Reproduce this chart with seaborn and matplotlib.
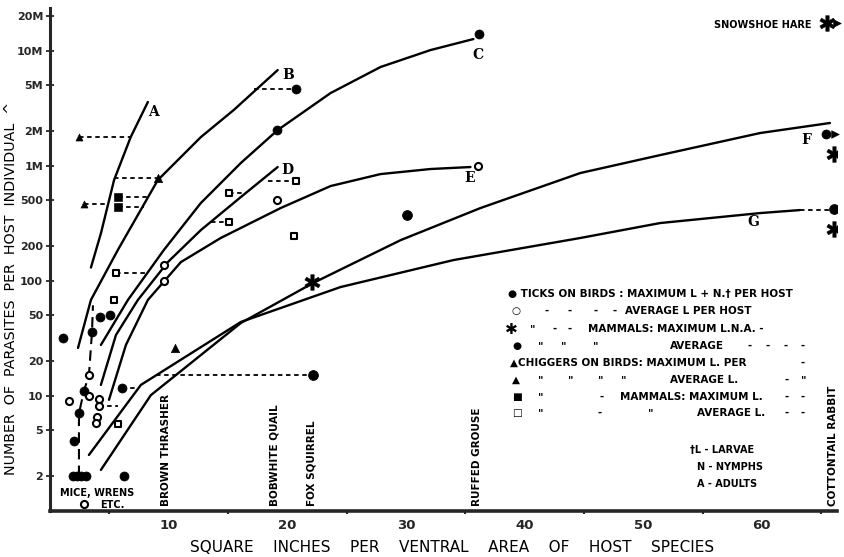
import numpy as np
import pandas as pd
import matplotlib
matplotlib.use("Agg")
import matplotlib.pyplot as plt
import seaborn as sns

# ---------------- data ----------------
curve_names = ["A", "B", "C", "D", "E", "F", "G"]
curve_A_x = [3.45, 4.3, 5.4, 6.8, 8.25]
curve_A_y = [130, 260, 750, 1770, 3580]
curve_B_x = [2.36, 3.45, 5.72, 9.09, 12.71, 15.49, 19.19]
curve_B_y = [26, 68, 185, 750, 1770, 3050, 6780]
curve_C_x = [4.29, 6.57, 9.6, 12.71, 16.08, 19.19, 23.65, 27.86, 32.07, 35.69]
curve_C_y = [27.6, 68, 185, 473, 1054, 2040, 4280, 7210, 10120, 12620]
curve_D_x = [4.29, 5.56, 7.41, 9.93, 12.71, 16.08, 19.19]
curve_D_y = [12.4, 33.7, 68, 145, 275, 533, 973]
curve_E_x = [4.97, 6.4, 8.25, 11.03, 14.39, 19.44, 23.65, 27.86, 32.07, 35.44]
curve_E_y = [9.2, 27.6, 68, 145, 235, 428, 665, 845, 935, 973]
curve_F_x = [4.29, 8.5, 16.08, 22.14, 29.55, 36.28, 44.7, 51.43, 59.85, 65.74]
curve_F_y = [2.26, 10.1, 42.8, 95, 225, 428, 863, 1236, 1922, 2350]
curve_G_x = [3.28, 7.66, 16.08, 24.49, 34.0, 44.7, 51.43, 59.85, 63.2]
curve_G_y = [3.05, 12.4, 43.7, 88, 151, 235, 317, 387, 411]

mice_dash_x = [2.44, 2.44, 2.86, 3.28, 3.54, 3.62]
mice_dash_y = [2, 7, 11, 15, 36, 61]

tick_bird_max_x = [1.1, 2.0, 2.45, 2.85, 3.5, 4.2, 5.05, 6.1, 6.2, 1.95, 2.3, 2.65, 3.0, 19.1, 20.7, 36.2, 65.4]
tick_bird_max_y = [32, 4, 7, 11, 36, 48, 50, 11.7, 2, 2, 2, 2, 2, 2040, 4680, 13900, 1900]
tick_bird_avg_x = [1.6, 3.3, 3.3, 4.1, 4.1, 4.0, 3.9, 9.6, 9.6, 19.1, 36.1, 2.85]
tick_bird_avg_y = [9, 10, 15, 9.4, 8.1, 6.5, 5.8, 137, 100, 502, 990, 1.15]
mammal_max_x = [22.1, 66.1, 66.1, 65.5]
mammal_max_y = [98, 1260, 282, 17300]
mammal_avg_x = [22.2, 30.1, 66.1]
mammal_avg_y = [15, 372, 418]
chig_bird_max_x = [2.45, 2.9]
chig_bird_max_y = [1780, 465]
chig_bird_avg_x = [9.1, 10.5]
chig_bird_avg_y = [784, 26]
chig_mam_max_x = [5.7, 5.7]
chig_mam_max_y = [532, 436]
chig_mam_avg_x = [5.6, 5.4, 5.7, 20.7, 15.1, 15.1, 20.6]
chig_mam_avg_y = [116, 68, 5.7, 734, 580, 324, 244]

conn_x0 = [2.45, 2.9, 5.7, 5.7, 5.4, 5.6, 17.2, 18.35, 15.1, 13.55, 8.9, 6.1, 4.1, 63.2]
conn_x1 = [6.8, 4.7, 8.25, 7.9, 9.1, 8.25, 20.7, 20.7, 16.3, 15.1, 22.2, 7.4, 5.7, 66.1]
conn_y = [1780, 465, 532, 436, 784, 116, 4680, 734, 580, 324, 15, 11.7, 8.1, 415]

y_ticks = [2, 5, 10, 20, 50, 100, 200, 500, 1000, 2000, 5000, 10000, 20000]
y_tick_labels = ["2", "5", "10", "20", "50", "100", "200", "500", "1M", "2M", "5M", "10M", "20M"]
x_ticks = [10, 20, 30, 40, 50, 60]

# ---------------- figure ----------------
sns.set_style("ticks")
plt.rcParams["font.family"] = ["DejaVu Sans"]
W, H = 845, 557
fig = plt.figure(figsize=(W / 100, H / 100), dpi=100)
ax = fig.add_axes([50 / W, 1 - 511 / H, (836.6 - 50) / W, (511 - 8) / H])
ax.set_yscale("log")
ax.set_xlim(0, 66.3)
ax.set_ylim(0.993, 23500)

def px(x, y, s, **kw):
    kw.setdefault("fontweight", "bold")
    kw.setdefault("color", "black")
    fig.text(x / W, 1 - y / H, s, **kw)

# curves
rows = []
for name, xs, ys in [("A", curve_A_x, curve_A_y), ("B", curve_B_x, curve_B_y),
                     ("C", curve_C_x, curve_C_y), ("D", curve_D_x, curve_D_y),
                     ("E", curve_E_x, curve_E_y), ("F", curve_F_x, curve_F_y),
                     ("G", curve_G_x, curve_G_y)]:
    for xv, yv in zip(xs, ys):
        rows.append({"curve": name, "x": xv, "y": yv})
curves = pd.DataFrame(rows)
sns.lineplot(data=curves, x="x", y="y", units="curve", estimator=None, sort=False,
             color="black", lw=1.7, ax=ax, legend=False)

sns.lineplot(x=mice_dash_x, y=mice_dash_y, sort=False, estimator=None, color="black",
             lw=1.5, linestyle=(0, (5, 3)), ax=ax, legend=False)

# dashed connectors
crow = []
for i, (a, b, yv) in enumerate(zip(conn_x0, conn_x1, conn_y)):
    crow.append({"seg": i, "x": a, "y": yv})
    crow.append({"seg": i, "x": b, "y": yv})
conn = pd.DataFrame(crow)
sns.lineplot(data=conn, x="x", y="y", units="seg", estimator=None, sort=False,
             color="black", lw=1.3, linestyle=(0, (2.5, 2)), ax=ax, legend=False)

# markers
sns.scatterplot(x=tick_bird_max_x, y=tick_bird_max_y, marker="o", s=42, color="black",
                edgecolor="black", ax=ax, zorder=5)
sns.scatterplot(x=tick_bird_avg_x, y=tick_bird_avg_y, marker="o", s=26, color="white",
                edgecolor="black", linewidth=1.5, ax=ax, zorder=5)
sns.scatterplot(x=mammal_max_x, y=mammal_max_y, marker="$\u2731$", s=130, color="black",
                edgecolor="black", linewidth=0.3, ax=ax, zorder=5)
sns.scatterplot(x=mammal_avg_x, y=mammal_avg_y, marker="o", s=50, color="black",
                edgecolor="black", ax=ax, zorder=5)
sns.scatterplot(x=chig_bird_max_x, y=chig_bird_max_y, marker="^", s=26, color="black",
                edgecolor="black", ax=ax, zorder=5)
sns.scatterplot(x=chig_bird_avg_x, y=chig_bird_avg_y, marker="^", s=36, color="black",
                edgecolor="black", ax=ax, zorder=5)
sns.scatterplot(x=chig_mam_max_x, y=chig_mam_max_y, marker="s", s=30, color="black",
                edgecolor="black", ax=ax, zorder=5)
sns.scatterplot(x=chig_mam_avg_x, y=chig_mam_avg_y, marker="s", s=22, color="white",
                edgecolor="black", linewidth=1.5, ax=ax, zorder=5)
# arrows beside snowshoe hare and F point
sns.scatterplot(x=[66.3, 66.2], y=[17300, 1900], marker=">", s=30, color="black",
                edgecolor="black", ax=ax, zorder=5, clip_on=False)

# axes styling
sns.despine(ax=ax)
ax.spines["left"].set_linewidth(2.2)
ax.spines["bottom"].set_linewidth(2.6)
ax.set_yticks(y_ticks)
ax.set_yticklabels(y_tick_labels, fontsize=8, fontweight="bold")
ax.yaxis.set_minor_locator(matplotlib.ticker.NullLocator())
ax.tick_params(axis="y", direction="inout", length=6, width=1.3, pad=2)
ax.set_xticks(x_ticks)
ax.set_xticklabels([str(v) for v in x_ticks], fontsize=9.5, fontweight="bold")
ax.set_xticks([5, 15, 25, 35, 45, 55, 65], minor=True)
ax.tick_params(axis="x", which="major", length=0, pad=6)
ax.tick_params(axis="x", which="minor", length=2, width=1.5, direction="out")
ax.set_xlabel("")
ax.set_ylabel("")

# axis titles
px(452, 548, "SQUARE    INCHES    PER    VENTRAL    AREA    OF    HOST    SPECIES",
   fontsize=11, fontweight="normal", ha="center", va="center")
px(11, 288, "NUMBER  OF  PARASITES  PER  HOST  INDIVIDUAL  ^", fontsize=10.3,
   fontweight="normal", rotation=90, ha="center", va="center")

# curve letters
for lab, (x, y) in zip(curve_names, [(153, 112), (288, 75), (478, 55), (287, 170),
                                     (470, 178), (806, 140), (753, 222)]):
    px(x, y, lab, fontsize=10, family="DejaVu Serif", ha="center", va="center")

# host labels
for s, x, in [("BROWN THRASHER", 166), ("BOBWHITE QUAIL", 275), ("FOX SQUIRREL", 312),
              ("RUFFED GROUSE", 477), ("COTTONTAIL RABBIT", 833)]:
    px(x, 506, s, fontsize=7.5, rotation=90, ha="center", va="bottom")
px(60, 493, "MICE, WRENS", fontsize=7, ha="left", va="center")
px(100, 505, "ETC.", fontsize=7, ha="left", va="center")
px(812, 25, "SNOWSHOE HARE", fontsize=7, ha="right", va="center")

# legend block
fs = 7.5
leg = [
    (508, 294, "● TICKS ON BIRDS : MAXIMUM L + N.† PER HOST"),
    (511, 311, "○"), (545, 311, "-"), (568, 311, "-"), (594, 311, "-"), (613, 311, "-"),
    (625, 311, "AVERAGE L PER HOST"),
    (530, 329, "\""), (553, 329, "-"), (568, 329, "-"),
    (588, 329, "MAMMALS: MAXIMUM L.N.A. -"),
    (512, 346, "●"), (538, 346, "\""), (561, 346, "\""), (593, 346, "\""),
    (670, 346, "AVERAGE"), (748, 346, "-"), (766, 346, "-"), (784, 346, "-"), (801, 346, "-"),
    (510, 363, "▲CHIGGERS ON BIRDS: MAXIMUM L. PER"), (801, 363, "-"),
    (512, 380, "▲"), (538, 380, "\""), (568, 380, "\""), (598, 380, "\""), (621, 380, "\""),
    (670, 380, "AVERAGE L."), (785, 380, "-"), (801, 380, "\""),
    (512, 397, "■"), (538, 397, "\""), (600, 397, "-"),
    (620, 397, "MAMMALS: MAXIMUM L."), (785, 397, "-"), (801, 397, "-"),
    (512, 413, "□"), (538, 413, "\""), (598, 413, "-"), (648, 413, "\""),
    (697, 413, "AVERAGE L."), (785, 413, "-"), (801, 413, "-"),
]
for x, y, s in leg:
    px(x, y, s, fontsize=fs, ha="left", va="center")
px(505, 329, "✱", fontsize=11, ha="left", va="center")

px(690, 450, "†L - LARVAE", fontsize=7, ha="left", va="center")
px(697, 467, "N - NYMPHS", fontsize=7, ha="left", va="center")
px(697, 484, "A - ADULTS", fontsize=7, ha="left", va="center")

fig.savefig("out.png", dpi=100)
